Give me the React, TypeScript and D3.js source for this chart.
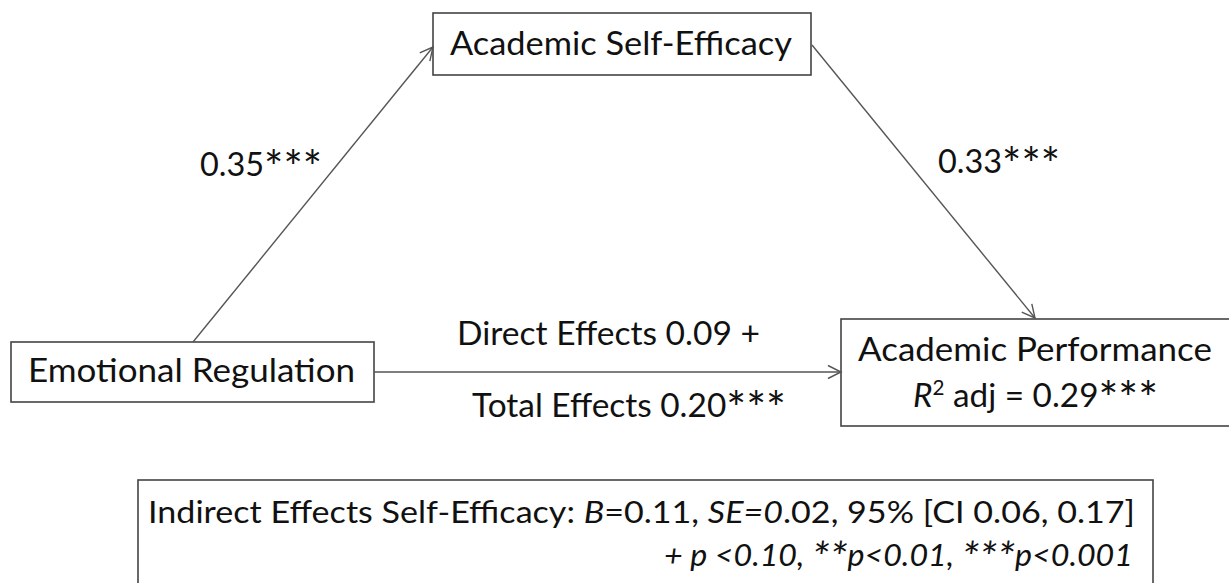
import { useEffect, useRef } from "react";
import * as d3 from "d3";

// node labels
const nodeLabels = ["Emotional Regulation", "Academic Self-Efficacy", "Academic Performance"];
const outcomeR2 = 0.29;
const outcomeStars = "***";

// path coefficients: a (ER -> ASE), b (ASE -> AP), c' and c (ER -> AP)
const pathNames = ["a", "b", "direct", "total"];
const pathValues = [0.35, 0.33, 0.09, 0.2];
const pathStars = ["***", "***", " +", "***"];

// indirect effect summary
const indirectStats = { B: 0.11, SE: 0.02, ciLow: 0.06, ciHigh: 0.17 };
const sigNote = "+ p <0.10, **p<0.01, ***p<0.001";

type Run = { t: string; italic?: boolean; sup?: boolean };
type Label = { runs: Run[]; x0: number; x1: number; y: number; size: number };

const W = 1229;
const H = 583;

const App = () => {
  const svgRef = useRef<SVGSVGElement | null>(null);

  useEffect(() => {
    if (!svgRef.current) return;
    const svg = d3.select(svgRef.current);
    svg.selectAll("*").remove();

    const f2 = d3.format(".2f");
    const font = "Lato, 'Open Sans', sans-serif";

    // boxes for the three variables and the footnote
    const boxes = [
      { x0: 11, y0: 342, x1: 374, y1: 402 },
      { x0: 433, y0: 13, x1: 811, y1: 75 },
      { x0: 841, y0: 319, x1: 1245, y1: 426 },
      { x0: 138, y0: 480, x1: 1153, y1: 600 },
    ];

    const defs = svg.append("defs");
    defs
      .append("marker")
      .attr("id", "arr")
      .attr("markerUnits", "userSpaceOnUse")
      .attr("markerWidth", 30)
      .attr("markerHeight", 30)
      .attr("refX", 0)
      .attr("refY", 0)
      .attr("viewBox", "-15 -15 30 30")
      .attr("orient", "auto")
      .append("path")
      .attr("d", "M-13,-6.5L0,0L-13,6.5")
      .attr("fill", "none")
      .attr("stroke", "#555")
      .attr("stroke-width", 1.4);

    svg
      .append("g")
      .selectAll("rect")
      .data(boxes)
      .join("rect")
      .attr("x", (d) => d.x0)
      .attr("y", (d) => d.y0)
      .attr("width", (d) => d.x1 - d.x0)
      .attr("height", (d) => d.y1 - d.y0)
      .attr("fill", "#fff")
      .attr("stroke", "#444")
      .attr("stroke-width", 1.6);

    // arrows
    const arrows: [number, number][][] = [
      [[193, 342], [433, 47]],
      [[812, 45], [1035, 318]],
      [[374, 372], [841, 372]],
    ];
    const line = d3.line();
    svg
      .append("g")
      .selectAll("path")
      .data(arrows)
      .join("path")
      .attr("d", (d) => line(d))
      .attr("fill", "none")
      .attr("stroke", "#555")
      .attr("stroke-width", 1.4)
      .attr("marker-end", "url(#arr)");

    const labels: Label[] = [
      { runs: [{ t: nodeLabels[0] }], x0: 28, x1: 355, y: 382, size: 33 },
      { runs: [{ t: nodeLabels[1] }], x0: 450, x1: 792, y: 55, size: 33 },
      { runs: [{ t: nodeLabels[2] }], x0: 858, x1: 1212, y: 361, size: 33 },
      {
        runs: [
          { t: "R", italic: true },
          { t: "2", sup: true },
          { t: ` adj = ${f2(outcomeR2)}${outcomeStars}` },
        ],
        x0: 913,
        x1: 1158,
        y: 407,
        size: 33,
      },
      { runs: [{ t: f2(pathValues[0]) + pathStars[0] }], x0: 200, x1: 322, y: 176, size: 33 },
      { runs: [{ t: f2(pathValues[1]) + pathStars[1] }], x0: 938, x1: 1060, y: 173, size: 33 },
      {
        runs: [{ t: `Direct Effects ${f2(pathValues[2])}${pathStars[2]}` }],
        x0: 457,
        x1: 760,
        y: 345,
        size: 33,
      },
      {
        runs: [{ t: `Total Effects ${f2(pathValues[3])}${pathStars[3]}` }],
        x0: 472,
        x1: 786,
        y: 417,
        size: 33,
      },
      {
        runs: [
          { t: "Indirect Effects Self-Efficacy: " },
          { t: "B", italic: true },
          { t: `=${f2(indirectStats.B)}, ` },
          { t: "SE=0", italic: true },
          {
            t: `.${f2(indirectStats.SE).split(".")[1]}, 95% [CI ${f2(indirectStats.ciLow)}, ${f2(
              indirectStats.ciHigh
            )}]`,
          },
        ],
        x0: 148,
        x1: 1135,
        y: 523,
        size: 31,
      },
      { runs: [{ t: sigNote, italic: true }], x0: 664, x1: 1133, y: 566, size: 31 },
    ];

    const g = svg.append("g").attr("font-family", font).attr("fill", "#111");
    const texts = g
      .selectAll("text")
      .data(labels)
      .join("text")
      .attr("font-size", (d) => d.size)
      .attr("x", 0)
      .attr("y", 0);

    // Lato's asterisk is tiny, so stars get their own bigger, lowered tspans
    texts.each(function (d) {
      const el = d3.select(this);
      let cur = 0;
      const put = (t: string, italic: boolean | undefined, size: number, off: number) => {
        const ts = el.append("tspan").text(t).attr("font-size", size);
        if (italic) ts.attr("font-style", "italic");
        if (off !== cur) ts.attr("dy", off - cur);
        cur = off;
      };
      d.runs.forEach((r) => {
        if (r.sup) {
          put(r.t, r.italic, d.size * 0.62, -d.size * 0.36);
          return;
        }
        r.t.split(/(\*+)/).forEach((seg) => {
          if (!seg) return;
          if (seg[0] === "*") put(seg, r.italic, d.size * 1.4, d.size * 0.24);
          else put(seg, r.italic, d.size, 0);
        });
      });
    });

    // stretch each label to the measured span in the reference
    const fit = () => {
      texts.each(function (d) {
        const el = this as SVGTextElement;
        const w = el.getComputedTextLength();
        const sx = w > 0 ? (d.x1 - d.x0) / w : 1;
        d3.select(el).attr("transform", `translate(${d.x0},${d.y}) scale(${sx},1)`);
      });
    };
    fit();
    if (document.fonts) document.fonts.ready.then(fit);
  }, []);

  return (
    <svg
      ref={svgRef}
      width={W}
      height={H}
      viewBox={`0 0 ${W} ${H}`}
      style={{ position: "absolute", left: 0, top: 0, background: "#fff" }}
    />
  );
};

export default App;
